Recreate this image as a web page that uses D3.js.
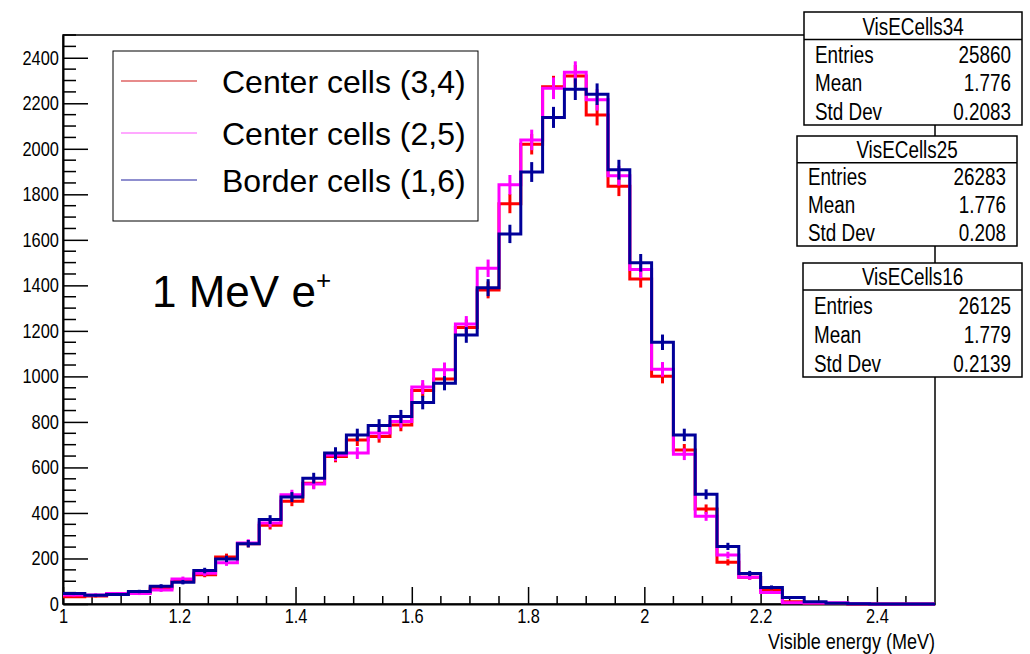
<!DOCTYPE html>
<html>
<head>
<meta charset="utf-8">
<script src="https://cdn.jsdelivr.net/npm/d3@7"></script>
<style>
  body { margin: 0; background: #fff; }
  text { font-family: "Liberation Sans", Arial, sans-serif; fill: #000; }
</style>
</head>
<body>
<script>
  const width = 1030;
  const height = 654;
  const margin = { top: 35, bottom: 50, left: 63, right: 95 };
  const narrow = 0.82; // ROOT's Helvetica is narrower than Liberation Sans

  // histogram binning: 40 bins from 1 to 2.5 MeV
  const xMin = 1.0;
  const xMax = 2.5;
  const nBins = 40;

  // bin contents
  const cells34 = [32, 35, 44, 50, 70, 100, 129, 207, 265, 346,
    451, 530, 648, 721, 736, 787, 938, 989, 1215, 1380,
    1759, 2020, 2273, 2320, 2149, 1835, 1428, 1001, 677, 417,
    183, 117, 60, 10, 4, 2, 0, 0, 0, 0];
  const cells25 = [40, 40, 46, 46, 61, 110, 135, 181, 268, 356,
    480, 527, 655, 663, 751, 802, 953, 1029, 1230, 1475,
    1842, 2039, 2266, 2336, 2215, 1882, 1470, 1031, 658, 385,
    215, 117, 51, 5, 4, 5, 1, 0, 0, 0];
  const cells16 = [46, 38, 42, 55, 78, 96, 147, 198, 265, 371,
    470, 553, 663, 743, 784, 824, 885, 970, 1182, 1390,
    1626, 1898, 2138, 2262, 2240, 1908, 1499, 1150, 743, 482,
    253, 134, 73, 29, 10, 3, 1, 0, 0, 0];

  const seriesNames = ["Center cells (3,4)", "Center cells (2,5)", "Border cells (1,6)"];
  const seriesColors = ["#ff0000", "#ff00ff", "#000099"];
  const legendColors = ["#d01818", "#ff55ff", "#2020a0"];

  const statNames = ["VisECells34", "VisECells25", "VisECells16"];
  const statEntries = ["25860", "26283", "26125"];
  const statMean = ["1.776", "1.776", "1.779"];
  const statStd = ["0.2083", "0.208", "0.2139"];

  const xTicks = [1, 1.2, 1.4, 1.6, 1.8, 2, 2.2, 2.4];
  const yTicks = [0, 200, 400, 600, 800, 1000, 1200, 1400, 1600, 1800, 2000, 2200, 2400];

  const svg = d3.select('body')
    .append('svg')
    .attr('width', width)
    .attr('height', height);

  svg.append('rect').attr('width', width).attr('height', height).attr('fill', '#fff');

  const x = d3.scaleLinear()
    .domain([xMin, xMax])
    .range([margin.left, width - margin.right]);

  const y = d3.scaleLinear()
    .domain([0, 2500])
    .range([height - margin.bottom, margin.top]);

  const binW = (xMax - xMin) / nBins;
  const edges = d3.range(nBins + 1).map(i => xMin + i * binW);

  // narrow text placed at (tx, ty)
  function narrowText(sel, tx, ty, size, str, anchor) {
    return sel.append('text')
      .attr('transform', `translate(${tx},${ty}) scale(${narrow},1)`)
      .attr('text-anchor', anchor || 'start')
      .style('font-size', size + 'px')
      .text(str);
  }

  // frame
  svg.append('rect')
    .attr('x', x(xMin))
    .attr('y', y(2500))
    .attr('width', x(xMax) - x(xMin))
    .attr('height', y(0) - y(2500))
    .attr('fill', 'none')
    .attr('stroke', '#000')
    .attr('stroke-width', 1.5);

  // Y axis (ticks inside the frame, ROOT style)
  const yAxis = svg.append('g')
    .attr('transform', `translate(${x(xMin)},0)`)
    .call(d3.axisLeft(y).tickValues(yTicks).tickFormat(d3.format('d'))
      .tickSizeInner(-25).tickSizeOuter(0).tickPadding(5));
  yAxis.selectAll('text')
    .attr('font-size', '20px').attr('fill', '#000')
    .attr('transform', `scale(${narrow},1)`);
  yAxis.selectAll('line').attr('stroke', '#000').attr('stroke-width', 1.5);
  yAxis.select('.domain').attr('stroke', '#000').attr('stroke-width', 2);
  yAxis.selectAll('line.minor')
    .data(d3.range(0, 2501, 50).filter(v => v % 200 !== 0))
    .join('line')
    .attr('class', 'minor')
    .attr('x1', 0).attr('x2', 13)
    .attr('y1', d => y(d)).attr('y2', d => y(d))
    .attr('stroke', '#000').attr('stroke-width', 1.5);

  // X axis
  const xAxis = svg.append('g')
    .attr('transform', `translate(0,${y(0)})`)
    .call(d3.axisBottom(x).tickValues(xTicks).tickFormat(d => String(d))
      .tickSizeInner(-17).tickSizeOuter(0).tickPadding(5));
  xAxis.selectAll('text')
    .attr('font-size', '20px').attr('fill', '#000')
    .attr('transform', `scale(${narrow},1)`);
  xAxis.selectAll('line').attr('stroke', '#000').attr('stroke-width', 1.5);
  xAxis.select('.domain').attr('stroke', '#000').attr('stroke-width', 2);
  xAxis.selectAll('line.minor')
    .data(d3.range(1, 50).map(i => xMin + i * 0.05).filter((v, i) => (i + 1) % 4 !== 0 && v < xMax))
    .join('line')
    .attr('class', 'minor')
    .attr('x1', d => x(d)).attr('x2', d => x(d))
    .attr('y1', 0).attr('y2', -8)
    .attr('stroke', '#000').attr('stroke-width', 1.5);

  narrowText(svg, x(xMax), 649, 22, 'Visible energy (MeV)', 'end');

  // histograms
  svg.append('clipPath').attr('id', 'frameClip')
    .append('rect')
    .attr('x', x(xMin)).attr('y', y(2500))
    .attr('width', x(xMax) - x(xMin)).attr('height', y(0) - y(2500) + 2);

  const step = d3.line()
    .x(d => x(d[0]))
    .y(d => y(d[1]))
    .curve(d3.curveStepAfter);

  const histG = svg.append('g').attr('clip-path', 'url(#frameClip)');
  [cells34, cells25, cells16].forEach((vals, s) => {
    const pts = vals.map((v, i) => [edges[i], v]).concat([[edges[nBins], vals[nBins - 1]]]);
    histG.append('path')
      .attr('d', step(pts))
      .attr('fill', 'none')
      .attr('stroke', seriesColors[s])
      .attr('stroke-width', 3);
    histG.append('g')
      .selectAll('line')
      .data(vals.map((v, i) => ({ c: edges[i] + binW / 2, v })).filter(d => d.v > 0))
      .join('line')
      .attr('x1', d => x(d.c)).attr('x2', d => x(d.c))
      .attr('y1', d => y(d.v - Math.sqrt(d.v)))
      .attr('y2', d => y(d.v + Math.sqrt(d.v)))
      .attr('stroke', seriesColors[s])
      .attr('stroke-width', 3);
  });

  // legend
  const legend = svg.append('g');
  legend.append('rect')
    .attr('x', 113).attr('y', 51)
    .attr('width', 365).attr('height', 170)
    .attr('fill', '#fff').attr('stroke', '#000').attr('stroke-width', 1);
  const legendRows = [81, 133, 180];
  seriesNames.forEach((name, i) => {
    legend.append('line')
      .attr('x1', 121).attr('x2', 197)
      .attr('y1', legendRows[i]).attr('y2', legendRows[i])
      .attr('stroke', legendColors[i]).attr('stroke-width', 1.2);
    legend.append('text')
      .attr('x', 222)
      .attr('y', legendRows[i] + 12)
      .style('font-size', '32px')
      .text(name);
  });

  // annotation
  const note = svg.append('text')
    .attr('x', 152)
    .attr('y', 307)
    .style('font-size', '44px')
    .text('1 MeV e');
  note.append('tspan')
    .attr('dy', -18)
    .style('font-size', '26px')
    .text('+');

  // stat boxes
  const boxes = [
    { x: 804, y: 12, w: 218, h: 113, t: 27.5 },
    { x: 797, y: 136, w: 220, h: 110, t: 26.7 },
    { x: 803, y: 263, w: 219, h: 114, t: 27 }
  ];
  boxes.forEach((b, i) => {
    const g = svg.append('g');
    g.append('rect')
      .attr('x', b.x).attr('y', b.y).attr('width', b.w).attr('height', b.h)
      .attr('fill', '#fff').attr('stroke', '#000').attr('stroke-width', 1.5);
    g.append('line')
      .attr('x1', b.x).attr('x2', b.x + b.w)
      .attr('y1', b.y + b.t).attr('y2', b.y + b.t)
      .attr('stroke', '#000').attr('stroke-width', 1.5);
    narrowText(g, b.x + b.w / 2, b.y + b.t - 5, 23, statNames[i], 'middle');
    const rowH = (b.h - b.t) / 3;
    const rows = [["Entries", statEntries[i]], ["Mean", statMean[i]], ["Std Dev", statStd[i]]];
    rows.forEach((r, j) => {
      const by = b.y + b.t + rowH * (j + 1) - 5.5;
      narrowText(g, b.x + 11, by, 23, r[0], 'start');
      narrowText(g, b.x + b.w - 11, by, 23, r[1], 'end');
    });
  });
</script>
</body>
</html>
